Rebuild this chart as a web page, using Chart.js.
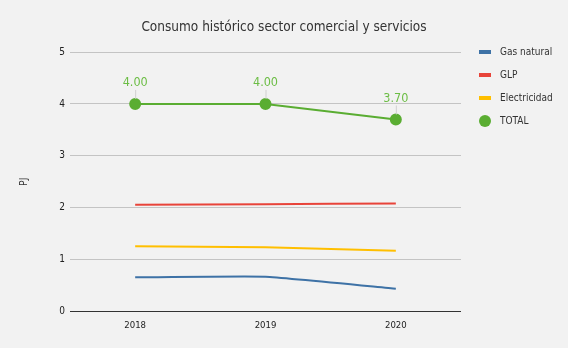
<!DOCTYPE html>
<html>
<head>
<meta charset="utf-8">
<script src="https://cdn.jsdelivr.net/npm/chart.js@4"></script>
<style>
html,body{margin:0;padding:0;background:#f2f2f2;}
#wrap{width:568px;height:348px;}
</style>
</head>
<body>
<div id="wrap"><canvas id="c" width="568" height="348"></canvas></div>
<script>
const years = ['2018', '2019', '2020'];
const gasNatural = [0.66, 0.67, 0.44];
const glp = [2.06, 2.07, 2.08];
const electricidad = [1.26, 1.24, 1.17];
const total = [4.00, 4.00, 3.70];
const yTicks = [0, 1, 2, 3, 4, 5];
const chartTitle = 'Consumo histórico sector comercial y servicios';

const FONT = '"DejaVu Sans Condensed", "DejaVu Sans", sans-serif';

const seriesDefs = [
  {label: 'Gas natural', data: gasNatural, color: '#3e72a6', marker: 'line'},
  {label: 'GLP', data: glp, color: '#e8443a', marker: 'line'},
  {label: 'Electricidad', data: electricidad, color: '#ffbf00', marker: 'line'},
  {label: 'TOTAL', data: total, color: '#5aad32', marker: 'circle'}
];

const bgPlugin = {
  id: 'bg',
  beforeDraw(chart) {
    const ctx = chart.ctx;
    ctx.save();
    ctx.fillStyle = '#f2f2f2';
    ctx.fillRect(0, 0, chart.width, chart.height);
    ctx.fillStyle = '#333';
    ctx.font = '13.5px ' + FONT;
    ctx.textAlign = 'center';
    ctx.textBaseline = 'middle';
    ctx.fillText(chartTitle, chart.width / 2, 27);
    ctx.restore();
  }
};

const legendPlugin = {
  id: 'customLegend',
  afterDraw(chart) {
    const ctx = chart.ctx;
    ctx.save();
    const x0 = chart.chartArea.right + 18;
    let y = chart.chartArea.top;
    seriesDefs.forEach(s => {
      if (s.marker === 'line') {
        ctx.fillStyle = s.color;
        ctx.fillRect(x0, y - 2, 12, 4);
      } else {
        ctx.beginPath();
        ctx.fillStyle = s.color;
        ctx.arc(x0 + 6, y, 6, 0, Math.PI * 2);
        ctx.fill();
      }
      ctx.fillStyle = '#333';
      ctx.font = '10px ' + FONT;
      ctx.textBaseline = 'middle';
      ctx.textAlign = 'left';
      ctx.fillText(s.label, x0 + 21, y);
      y += 23;
    });
    ctx.restore();
  }
};

const labelPlugin = {
  id: 'totalLabels',
  afterDatasetsDraw(chart) {
    const ctx = chart.ctx;
    const idx = chart.data.datasets.length - 1;
    const meta = chart.getDatasetMeta(idx);
    ctx.save();
    meta.data.forEach((pt, i) => {
      const v = chart.data.datasets[idx].data[i];
      ctx.strokeStyle = '#d0d0d0';
      ctx.lineWidth = 1;
      ctx.beginPath();
      ctx.moveTo(pt.x + 0.5, pt.y - 5);
      ctx.lineTo(pt.x + 0.5, pt.y - 14);
      ctx.stroke();
      ctx.fillStyle = '#6cbd45';
      ctx.font = '12.5px ' + FONT;
      ctx.textAlign = 'center';
      ctx.textBaseline = 'middle';
      ctx.fillText(v.toFixed(2), pt.x, pt.y - 21);
    });
    ctx.restore();
  }
};

new Chart(document.getElementById('c'), {
  type: 'line',
  data: {
    labels: years,
    datasets: seriesDefs.map(s => ({
      label: s.label,
      data: s.data,
      borderColor: s.color,
      backgroundColor: s.color,
      borderWidth: 2,
      pointRadius: s.marker === 'circle' ? 5 : 0,
      pointHoverRadius: s.marker === 'circle' ? 5 : 0,
      tension: s.marker === 'circle' ? 0 : 0.12,
      fill: false
    }))
  },
  options: {
    responsive: false,
    animation: false,
    devicePixelRatio: 1,
    layout: {padding: {left: 14, right: 107, top: 52, bottom: 9}},
    plugins: {
      legend: {display: false},
      tooltip: {enabled: false},
      title: {display: false}
    },
    scales: {
      x: {
        offset: true,
        grid: {display: false, drawTicks: false},
        border: {display: false},
        ticks: {color: '#222', font: {family: FONT, size: 9.5}, padding: 8}
      },
      y: {
        min: 0, max: 5,
        afterBuildTicks(axis) { axis.ticks = yTicks.map(v => ({value: v})); },
        afterFit(axis) { axis.width = 56; },
        grid: {
          color: ctx => ctx.tick && ctx.tick.value === 0 ? '#333' : '#c4c4c4',
          lineWidth: 1,
          drawTicks: false
        },
        border: {display: false},
        ticks: {color: '#222', font: {family: FONT, size: 10}, padding: 5},
        title: {display: true, text: 'PJ', color: '#333', font: {family: FONT, size: 10.5}, padding: {bottom: 4}}
      }
    }
  },
  plugins: [bgPlugin, legendPlugin, labelPlugin]
});
</script>
</body>
</html>
